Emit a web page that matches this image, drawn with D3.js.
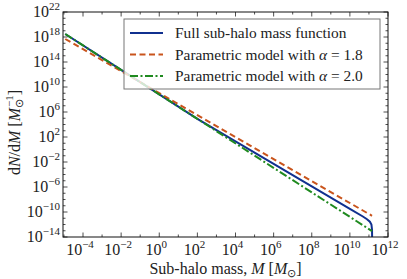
<!DOCTYPE html>
<html>
<head>
<meta charset="utf-8">
<script src="https://cdn.jsdelivr.net/npm/d3@7"></script>
<style>
  body { margin: 0; background: #fff; }
  svg text { font-family: "Liberation Serif", serif; fill: #222; }
</style>
</head>
<body>
<div id="draw"></div>
<script>
// sub-halo mass function
const fullMass = [1.17e-5, 1e-2, 1, 1e2, 1e4, 1e6, 1e8, 1e10, 4.8e10, 7.9e10, 1.12e11, 1.35e11, 1.45e11, 1.48e11];
const fullDnDm = [3.0e18, 5.5e12, 6.6e8, 7.9e4, 20, 5.0e-3, 1.26e-6, 3.2e-10, 1.9e-11, 7.1e-12, 2.8e-12, 1e-12, 1.6e-13, 1e-15];
const alpha18Mass = [1.17e-5, 1.45e11];
const alpha18DnDm = [4.8e17, 2.5e-11];
const alpha20Mass = [1.17e-5, 1.45e11];
const alpha20DnDm = [3.0e18, 8.9e-14];

const xTickExp = [-4, -2, 0, 2, 4, 6, 8, 10, 12];
const yTickExp = [-14, -10, -6, -2, 2, 6, 10, 14, 18, 22];
const legendLabels = ["Full sub-halo mass function", "Parametric model with ", "Parametric model with "];
const legendAlpha = [null, "1.8", "2.0"];

const W = 407, H = 279;
const margin = {left: 63, right: 19, top: 12, bottom: 42};

const svg = d3.select("#draw").append("svg")
    .attr("width", W)
    .attr("height", H);

const x = d3.scaleLog().domain([Math.pow(10, -5.05), 1e12]).range([margin.left, W - margin.right]);
const y = d3.scaleLog().domain([1e-14, 1e22]).range([H - margin.bottom, margin.top]);

const x0 = margin.left, x1 = W - margin.right, y0 = H - margin.bottom, y1 = margin.top;

svg.append("clipPath").attr("id", "clip")
    .append("rect").attr("x", x0).attr("y", y1).attr("width", x1 - x0).attr("height", y0 - y1);

// series
const series = [
    {m: fullMass, v: fullDnDm, color: "#10308f", dash: null},
    {m: alpha18Mass, v: alpha18DnDm, color: "#c9541c", dash: "6,3.5"},
    {m: alpha20Mass, v: alpha20DnDm, color: "#1f8a1f", dash: "8,2.5,2,2.5"}
];
const line = d3.line().x(d => x(d[0])).y(d => y(d[1]));
series.forEach(s => {
    svg.append("path")
        .attr("clip-path", "url(#clip)")
        .attr("d", line(s.m.map((m, i) => [m, s.v[i]])))
        .attr("fill", "none")
        .attr("stroke", s.color)
        .attr("stroke-width", 2)
        .attr("stroke-dasharray", s.dash);
});

// ticks (inward, on all four sides)
const ticks = svg.append("g").attr("stroke", "#222").attr("stroke-width", 0.8);
for (let e = -5; e <= 12; e++) {
    const len = (e % 2 === 0) ? 4.5 : 2.5;
    const px = x(Math.pow(10, e));
    if (px < x0) continue;
    ticks.append("line").attr("x1", px).attr("x2", px).attr("y1", y0).attr("y2", y0 - len);
    ticks.append("line").attr("x1", px).attr("x2", px).attr("y1", y1).attr("y2", y1 + len);
}
for (let e = -14; e <= 22; e++) {
    const len = (yTickExp.indexOf(e) >= 0) ? 4.5 : 2.5;
    const py = y(Math.pow(10, e));
    ticks.append("line").attr("x1", x0).attr("x2", x0 + len).attr("y1", py).attr("y2", py);
    ticks.append("line").attr("x1", x1).attr("x2", x1 - len).attr("y1", py).attr("y2", py);
}

// frame
svg.append("rect")
    .attr("x", x0).attr("y", y1).attr("width", x1 - x0).attr("height", y0 - y1)
    .attr("fill", "none").attr("stroke", "#111").attr("stroke-width", 1);

function powerLabel(g, e, anchor) {
    const t = g.append("text").attr("text-anchor", anchor).style("font-size", "16px");
    t.append("tspan").text("10");
    t.append("tspan").attr("dy", -7).style("font-size", "11px").text(e < 0 ? "\u2212" + (-e) : e);
    return t;
}

// x tick labels
xTickExp.forEach(e => {
    const g = svg.append("g").attr("transform", `translate(${x(Math.pow(10, e)) - 3},${y0 + 18})`);
    powerLabel(g, e, "middle");
});
// y tick labels
yTickExp.forEach(e => {
    const g = svg.append("g").attr("transform", `translate(${x0 - 3},${y(Math.pow(10, e)) + 5})`);
    powerLabel(g, e, "end");
});

// axis titles
const xl = svg.append("text")
    .attr("x", (x0 + x1) / 2).attr("y", H - 5)
    .attr("text-anchor", "middle").style("font-size", "16px");
xl.append("tspan").text("Sub-halo mass, ");
xl.append("tspan").style("font-style", "italic").text("M");
xl.append("tspan").text(" [");
xl.append("tspan").style("font-style", "italic").text("M");
xl.append("tspan").attr("dy", 3).style("font-size", "11px").text("\u2299");
xl.append("tspan").attr("dy", -3).text("]");

const yl = svg.append("text")
    .attr("transform", `translate(20,${(y0 + y1) / 2 + 8}) rotate(-90)`)
    .attr("text-anchor", "middle").style("font-size", "16px");
yl.append("tspan").text("d");
yl.append("tspan").style("font-style", "italic").text("N");
yl.append("tspan").text("/d");
yl.append("tspan").style("font-style", "italic").text("M");
yl.append("tspan").text(" [");
yl.append("tspan").style("font-style", "italic").text("M");
yl.append("tspan").attr("dy", 3).style("font-size", "11px").text("\u2299");
yl.append("tspan").attr("dx", -8).attr("dy", -10).style("font-size", "11px").text("\u22121");
yl.append("tspan").attr("dy", 7).text("]");

// legend
const lg = svg.append("g").attr("transform", "translate(124,19)");
lg.append("rect").attr("width", 256).attr("height", 70)
    .attr("fill", "#fff").attr("fill-opacity", 0.8)
    .attr("stroke", "#777").attr("stroke-width", 1);
series.forEach((s, i) => {
    const cy = 14 + i * 21.5;
    lg.append("line").attr("x1", 6).attr("x2", 39).attr("y1", cy).attr("y2", cy)
        .attr("stroke", s.color).attr("stroke-width", 2).attr("stroke-dasharray", s.dash);
    const t = lg.append("text").attr("x", 51).attr("y", cy + 5).style("font-size", "15.4px");
    t.append("tspan").text(legendLabels[i]);
    if (legendAlpha[i]) {
        t.append("tspan").style("font-style", "italic").text("\u03b1");
        t.append("tspan").text(" = " + legendAlpha[i]);
    }
});
</script>
</body>
</html>
